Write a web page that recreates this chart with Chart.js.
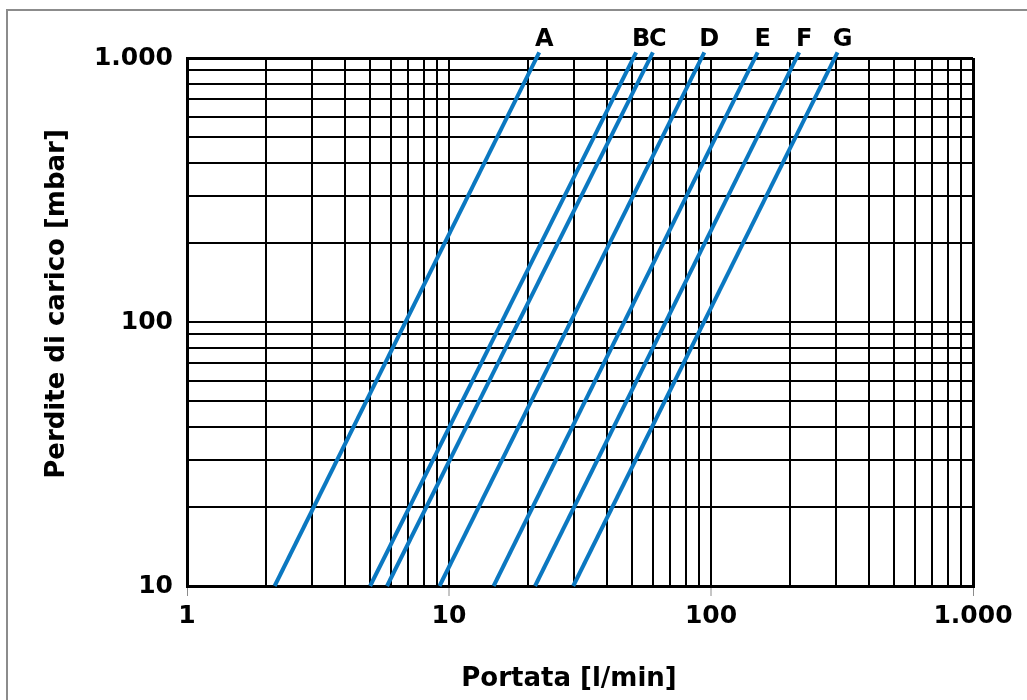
<!DOCTYPE html>
<html>
<head>
<meta charset="utf-8">
<script src="https://cdn.jsdelivr.net/npm/chart.js@4/dist/chart.umd.min.js"></script>
<style>
  html, body { margin: 0; padding: 0; background: #fff; }
  #wrap { width: 1027px; height: 700px; position: relative; }
</style>
</head>
<body>
<div id="wrap"><canvas id="lossChart"></canvas></div>
<script>
// portata [l/min] read at 10 mbar and at the top end of each line (~1050 mbar)
var pressures = [10, 1050];
var seriesNames = ['A', 'B', 'C', 'D', 'E', 'F', 'G'];
var flowA = [2.16, 22.1];
var flowB = [5.0, 51.8];
var flowC = [5.8, 60];
var flowD = [9.2, 94.3];
var flowE = [14.8, 150.7];
var flowF = [21.3, 217];
var flowG = [29.8, 304];
var flows = [flowA, flowB, flowC, flowD, flowE, flowF, flowG];

// grid lines and labelled ticks
var xGrid = [1, 2, 3, 4, 5, 6, 7, 8, 9, 10, 20, 30, 40, 50, 60, 70, 80, 90,
             100, 200, 300, 400, 500, 600, 700, 800, 900, 1000];
var yGrid = [10, 20, 30, 40, 50, 60, 70, 80, 90, 100, 200, 300, 400, 500,
             600, 700, 800, 900, 1000];
var xMajor = [1, 10, 100, 1000];
var xMajorLabels = ['1', '10', '100', '1.000'];
var yMajor = [10, 100, 1000];
var yMajorLabels = ['10', '100', '1.000'];

var FONT = '"DejaVu Sans", Verdana, sans-serif';
var BLUE = '#0b78c1';

function lineWidthFor(ctx) {
  var s = ctx.scale;
  var v = ctx.tick ? ctx.tick.value : null;
  return (v === s.min || v === s.max) ? 3 : 2;
}

var extras = {
  id: 'extras',
  beforeDraw: function(chart) {
    // grey frame round the picture (only left and top edges are visible)
    var c = chart.ctx;
    c.save();
    c.strokeStyle = '#8c8c8c';
    c.lineWidth = 2;
    c.beginPath();
    c.moveTo(7, 760);
    c.lineTo(7, 10);
    c.lineTo(1100, 10);
    c.stroke();
    c.restore();
  },
  afterDraw: function(chart) {
    var c = chart.ctx;
    var xs = chart.scales.x;
    c.save();
    c.fillStyle = '#000';
    c.font = 'bold 24px ' + FONT;
    c.textAlign = 'center';
    c.textBaseline = 'middle';
    // series letters above the top end of each line
    seriesNames.forEach(function(name, i) {
      var f = flows[i];
      c.fillText(name, xs.getPixelForValue(f[f.length - 1]) + 5, 40);
    });
    // axis titles
    c.font = 'bold 26px ' + FONT;
    c.fillText('Portata [l/min]', 569, 679);
    c.translate(57, 304);
    c.rotate(-Math.PI / 2);
    c.fillText('Perdite di carico [mbar]', 0, 0);
    c.restore();
  }
};

var datasets = seriesNames.map(function(name, i) {
  return {
    label: name,
    data: pressures.map(function(p, j) { return { x: flows[i][j], y: p }; }),
    borderColor: BLUE,
    borderWidth: 4,
    pointRadius: 0,
    fill: false,
    tension: 0,
    clip: false
  };
});

new Chart(document.getElementById('lossChart'), {
  type: 'line',
  data: { datasets: datasets },
  plugins: [extras],
  options: {
    responsive: true,
    maintainAspectRatio: false,
    animation: false,
    events: [],
    layout: { padding: { top: 58, right: 54, left: 0, bottom: 0 } },
    plugins: { legend: { display: false }, tooltip: { enabled: false } },
    scales: {
      x: {
        type: 'logarithmic',
        min: 1,
        max: 1000,
        afterBuildTicks: function(s) { s.ticks = xGrid.map(function(v) { return { value: v }; }); },
        afterFit: function(s) { s.height = 114; },
        border: { color: '#000', width: 3 },
        grid: {
          color: '#000',
          lineWidth: lineWidthFor,
          drawTicks: true,
          tickLength: 10,
          tickWidth: 1,
          tickColor: function(ctx) {
            return ctx.tick && xMajor.indexOf(ctx.tick.value) >= 0 ? '#8c8c8c' : 'rgba(0,0,0,0)';
          }
        },
        ticks: {
          autoSkip: false,
          maxRotation: 0,
          padding: 5,
          color: '#000',
          font: { size: 25, weight: 'bold', family: FONT },
          callback: function(v) {
            var k = xMajor.indexOf(v);
            return k >= 0 ? xMajorLabels[k] : '';
          }
        }
      },
      y: {
        type: 'logarithmic',
        min: 10,
        max: 1000,
        afterBuildTicks: function(s) { s.ticks = yGrid.map(function(v) { return { value: v }; }); },
        afterFit: function(s) { s.width = 187; },
        border: { color: '#000', width: 3 },
        grid: {
          color: '#000',
          lineWidth: lineWidthFor,
          drawTicks: false
        },
        ticks: {
          autoSkip: false,
          padding: 14,
          color: '#000',
          font: { size: 25, weight: 'bold', family: FONT },
          callback: function(v) {
            var k = yMajor.indexOf(v);
            return k >= 0 ? yMajorLabels[k] : '';
          }
        }
      }
    }
  }
});
</script>
</body>
</html>
